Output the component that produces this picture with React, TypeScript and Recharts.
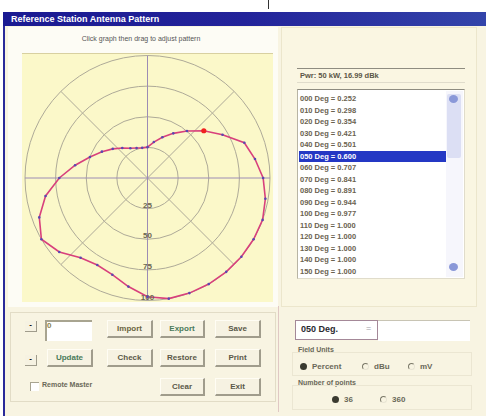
import React from 'react';
import { RadarChart, Radar, PolarGrid, PolarAngleAxis, PolarRadiusAxis } from 'recharts';

// bearing (deg, clockwise from north)
const BEARINGS = [0, 10, 20, 30, 40, 50, 60, 70, 80, 90, 100, 110, 120, 130, 140, 150, 160, 170,
  180, 190, 200, 210, 220, 230, 240, 250, 260, 270, 280, 290, 300, 310, 320, 330, 340, 350];
// relative field (fraction of max)
const FIELD = [0.252, 0.298, 0.354, 0.421, 0.501, 0.600, 0.707, 0.841, 0.891, 0.944, 0.977, 1.000,
  1.000, 1.000, 1.000, 1.000, 1.000, 1.000, 0.970, 0.900, 0.840, 0.820, 0.850, 0.940, 1.000, 0.940,
  0.845, 0.720, 0.600, 0.500, 0.430, 0.370, 0.320, 0.280, 0.260, 0.250];
const RING_TICKS = [0.25, 0.5, 0.75, 1];
const DIAGONAL_SPOKES = [45, 135, 225, 315];
const MAIN_AXES = [0, 90, 180, 270];
const SELECTED_INDEX = 5;
const LIST_ROWS = 16;

const TITLE = 'Reference Station Antenna Pattern';
const SUBTITLE = 'Click graph then drag to adjust pattern';
const POWER_LABEL = 'Pwr: 50 kW, 16.99 dBk';

const data = BEARINGS.map((deg, i) => ({ deg, v: FIELD[i] }));

const FONT = '"Liberation Sans", Arial, sans-serif';

const pad3 = (n: number) => String(n).padStart(3, '0');

const RadiusTick = (props: any) => {
  const { x, y, payload } = props;
  return (
    <text x={x} y={y} dy={-1} textAnchor="middle" fontSize={8} fontWeight="bold"
      fontFamily={FONT} fill="#6a6650">
      {Math.round(payload.value * 100)}
    </text>
  );
};

const PatternDot = (props: any) => {
  const { cx, cy, index } = props;
  if (index === SELECTED_INDEX) {
    return <circle key={`d${index}`} cx={cx} cy={cy} r={2.6} fill="#f02020" stroke="none" />;
  }
  return <circle key={`d${index}`} cx={cx} cy={cy} r={1.3} fill="#5a48b0" stroke="none" />;
};

const Btn = ({ x, y, w, h, label, color = '#5a5848' }: any) => (
  <div style={{
    position: 'absolute', left: x, top: y, width: w, height: h, boxSizing: 'border-box',
    background: '#f6f2e2', borderTop: '1px solid #fffdf4', borderLeft: '1px solid #fffdf4',
    borderRight: '2px solid #a09c8c', borderBottom: '2px solid #a09c8c',
    display: 'flex', alignItems: 'center', justifyContent: 'center',
    font: `bold 8px ${FONT}`, color,
  }}>{label}</div>
);

const Radio = ({ x, y, label, checked }: any) => (
  <div style={{ position: 'absolute', left: x, top: y, display: 'flex', alignItems: 'center' }}>
    <div style={{
      width: 7, height: 7, borderRadius: '50%', boxSizing: 'border-box',
      border: checked ? 'none' : '1px solid #7a7868', borderRight: checked ? 'none' : '1px solid #e8e4d4',
      borderBottom: checked ? 'none' : '1px solid #e8e4d4',
      background: checked ? '#3a3a30' : 'transparent',
    }} />
    <span style={{ marginLeft: 5, font: `bold 8px ${FONT}`, color: '#6a6858' }}>{label}</span>
  </div>
);

const Txt = ({ x, y, children, size = 8, color = '#6a6858', bold = true }: any) => (
  <div style={{
    position: 'absolute', left: x, top: y, whiteSpace: 'nowrap',
    font: `${bold ? 'bold ' : ''}${size}px ${FONT}`, color,
  }}>{children}</div>
);

export default function App() {
  const rows = data.slice(0, LIST_ROWS);
  return (
    <div style={{ position: 'fixed', left: 0, top: 0, width: 486, height: 416, background: '#ffffff', overflow: 'hidden' }}>
      {/* scan artefact line */}
      <div style={{ position: 'absolute', left: 268, top: 0, width: 1, height: 9, background: '#333' }} />
      {/* window */}
      <div style={{ position: 'absolute', left: 3, top: 12, width: 483, height: 404, background: '#f8f4e2' }} />
      <div style={{ position: 'absolute', left: 3, top: 12, width: 2, height: 404, background: '#2a2a9a' }} />
      <div style={{
        position: 'absolute', left: 3, top: 12, width: 483, height: 14,
        background: 'linear-gradient(90deg, #1a1a92 0%, #23239a 50%, #3344aa 100%)',
      }} />
      <Txt x={11} y={14} size={9} color="#ffffff">{TITLE}</Txt>

      {/* left panel */}
      <div style={{ position: 'absolute', left: 8, top: 27, width: 270, height: 280, background: '#fdfcf5' }} />
      <div style={{ position: 'absolute', left: 8, top: 35, width: 266, textAlign: 'center', font: `7px ${FONT}`, color: '#555' }}>{SUBTITLE}</div>

      {/* polar plot */}
      <div style={{ position: 'absolute', left: 22, top: 53, width: 251, height: 248, background: '#fbf8c9', borderTop: '1px solid #d8d0a0' }}>
        <RadarChart width={251} height={250} data={data} outerRadius={122.5}
          startAngle={90} endAngle={-270} margin={{ top: 0, right: 0, bottom: 0, left: 0 }}
          style={{ position: 'absolute', left: 0, top: -1 }}>
          <PolarGrid gridType="circle" polarAngles={DIAGONAL_SPOKES} stroke="#aeaa98" strokeWidth={1} />
          <PolarGrid gridType="circle" polarAngles={MAIN_AXES} polarRadius={[]} stroke="#9c8cb4" strokeWidth={1} />
          <PolarAngleAxis dataKey="deg" tick={false} axisLine={false} tickLine={false} />
          <PolarRadiusAxis angle={-90} domain={[0, 1]} ticks={RING_TICKS as any} tick={<RadiusTick />}
            axisLine={false} tickLine={false} />
          <Radar dataKey="v" stroke="#d8407c" strokeWidth={1.6} fill="none" fillOpacity={0}
            dot={PatternDot} isAnimationActive={false} />
        </RadarChart>
      </div>

      {/* right panel */}
      <div style={{ position: 'absolute', left: 281, top: 27, width: 196, height: 280, background: '#faf6e2', border: '1px solid #ece6cc', boxSizing: 'border-box' }} />
      <div style={{ position: 'absolute', left: 297, top: 68, width: 168, height: 13, borderTop: '1px solid #8e8c80', borderBottom: '1px solid #e0dccb' }} />
      <Txt x={300} y={71} size={7.5} color="#5a5646">{POWER_LABEL}</Txt>

      {/* list box */}
      <div style={{ position: 'absolute', left: 297, top: 89, width: 168, height: 190, background: '#ffffff', borderTop: '1px solid #8e8c80', borderLeft: '1px solid #b8b4a4', borderRight: '1px solid #e0dccb', borderBottom: '1px solid #e0dccb', boxSizing: 'border-box' }}>
        {rows.map((r, i) => (
          <div key={r.deg} style={{
            position: 'absolute', left: 1, top: 3 + i * 11.5, width: 147, height: 11,
            background: i === SELECTED_INDEX ? '#2438c4' : 'transparent',
            color: i === SELECTED_INDEX ? '#ffffff' : '#6a6250',
            font: `bold 7.5px ${FONT}`, lineHeight: '11px', paddingLeft: 1, whiteSpace: 'nowrap',
          }}>{`${pad3(r.deg)} Deg = ${r.v.toFixed(3)}`}</div>
        ))}
        <div style={{ position: 'absolute', left: 148, top: 1, width: 17, height: 186, background: '#f6f6fc' }} />
        <div style={{ position: 'absolute', left: 149, top: 4, width: 14, height: 64, background: '#dcdff4', borderRadius: 2 }} />
        <div style={{ position: 'absolute', left: 151, top: 5, width: 9, height: 8, background: '#8a98d8', borderRadius: '50%' }} />
        <div style={{ position: 'absolute', left: 151, top: 173, width: 9, height: 8, background: '#8a98d8', borderRadius: '50%' }} />
      </div>

      {/* bottom-left group */}
      <div style={{ position: 'absolute', left: 10, top: 312, width: 266, height: 90, border: '1px solid #e2dcc6', boxSizing: 'border-box' }} />
      <div style={{ position: 'absolute', left: 278, top: 306, width: 1, height: 106, background: '#e0c8c4' }} />
      <div style={{ position: 'absolute', left: 25, top: 321, width: 11, height: 10, background: '#f6f2e2', borderRight: '1px solid #a09c8c', borderBottom: '1px solid #a09c8c', font: `bold 8px ${FONT}`, textAlign: 'center', lineHeight: '8px' }}>-</div>
      <div style={{ position: 'absolute', left: 25, top: 355, width: 11, height: 10, background: '#f6f2e2', borderRight: '1px solid #a09c8c', borderBottom: '1px solid #a09c8c', font: `bold 8px ${FONT}`, textAlign: 'center', lineHeight: '8px' }}>-</div>
      <div style={{ position: 'absolute', left: 45, top: 320, width: 47, height: 21, background: '#ffffff', borderTop: '2px solid #a8a490', borderLeft: '2px solid #a8a490', boxSizing: 'border-box' }} />
      <Txt x={47} y={321} size={8} color="#8a8450">0</Txt>
      <Btn x={107} y={320} w={46} h={18} label="Import" color="#6a6440" />
      <Btn x={160} y={320} w={45} h={18} label="Export" color="#4a7a5a" />
      <Btn x={215} y={320} w={46} h={18} label="Save" />
      <Btn x={47} y={349} w={46} h={18} label="Update" color="#4a7a5a" />
      <Btn x={107} y={349} w={46} h={18} label="Check" />
      <Btn x={160} y={349} w={45} h={18} label="Restore" />
      <Btn x={215} y={349} w={46} h={18} label="Print" />
      <Btn x={160} y={378} w={45} h={18} label="Clear" />
      <Btn x={215} y={378} w={46} h={18} label="Exit" />
      <div style={{ position: 'absolute', left: 30, top: 382, width: 8, height: 8, background: '#fff', borderTop: '1px solid #a8a490', borderLeft: '1px solid #a8a490' }} />
      <Txt x={42} y={381} size={7} color="#6a6858">Remote Master</Txt>

      {/* bottom-right controls */}
      <div style={{ position: 'absolute', left: 295, top: 320, width: 83, height: 20, background: '#ffffff', border: '1px solid #a48898', boxSizing: 'border-box' }} />
      <Txt x={301} y={324} size={9} color="#2a2a30">050 Deg.</Txt>
      <Txt x={366} y={323} size={9} color="#a0a0a8" bold={false}>=</Txt>
      <div style={{ position: 'absolute', left: 378, top: 320, width: 92, height: 20, background: '#ffffff', borderTop: '1px solid #c8c4b4' }} />
      <Txt x={298} y={346} size={7} color="#6a6858">Field Units</Txt>
      <div style={{ position: 'absolute', left: 292, top: 352, width: 180, height: 24, border: '1px solid #ebe6d2', boxSizing: 'border-box' }} />
      <Radio x={300} y={362} label="Percent" checked />
      <Radio x={362} y={362} label="dBu" />
      <Radio x={408} y={362} label="mV" />
      <Txt x={298} y={379} size={7} color="#6a6858">Number of points</Txt>
      <div style={{ position: 'absolute', left: 292, top: 385, width: 180, height: 25, border: '1px solid #ebe6d2', boxSizing: 'border-box' }} />
      <Radio x={332} y={395} label="36" checked />
      <Radio x={380} y={395} label="360" />
    </div>
  );
}
